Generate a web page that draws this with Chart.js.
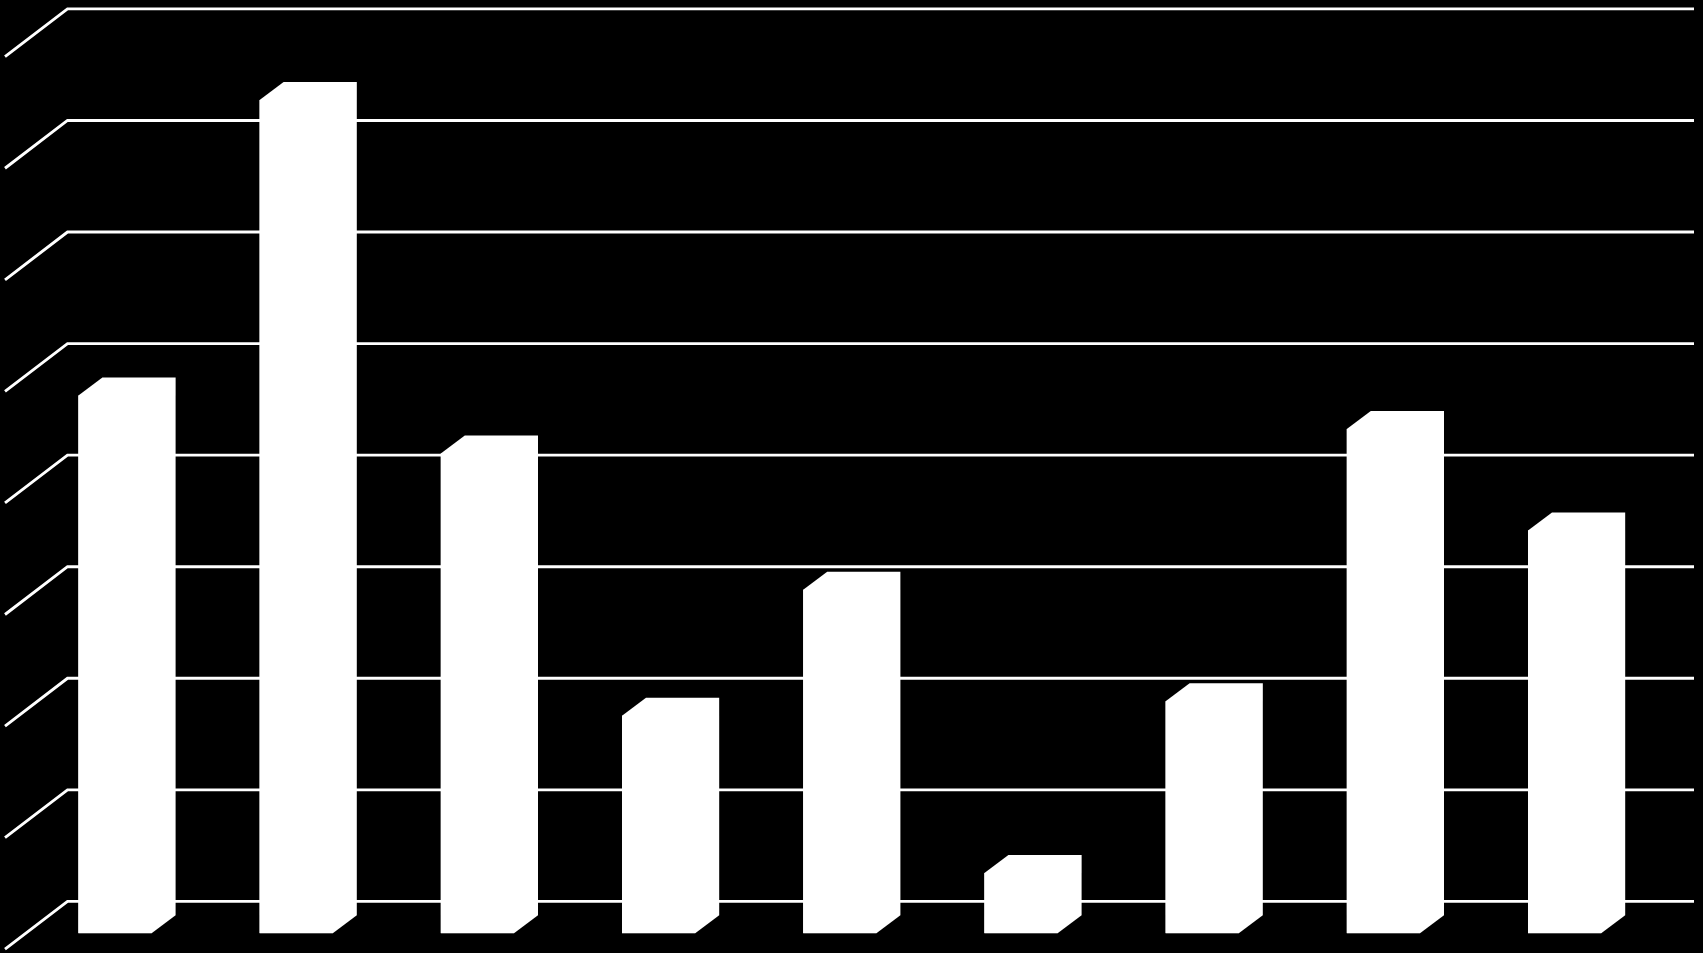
<!DOCTYPE html>
<html>
<head>
<meta charset="utf-8">
<title>chart</title>
<script src="https://cdn.jsdelivr.net/npm/chart.js@4"></script>
<style>
  html, body { margin: 0; padding: 0; background: #000; overflow: hidden; }
  canvas { display: block; }
</style>
</head>
<body>
<canvas id="barChart" width="1703" height="953"></canvas>
<script>
const categories = ["1", "2", "3", "4", "5", "6", "7", "8", "9"];
const values = [4.82, 7.47, 4.30, 1.95, 3.08, 0.54, 2.08, 4.52, 3.61];
const axisMax = 8;

// 3d look: wall sits behind the bars, floor runs down and to the left
const wall = { dx: 62.5, dy: 47.8, lift: 31.9, right: 1694 };
const barDepth = { dx: 24, dy: 18 };

const wall3d = {
  id: "wall3d",
  beforeDatasetsDraw(chart) {
    const { ctx, scales } = chart;
    ctx.save();
    ctx.strokeStyle = "#ffffff";
    ctx.lineCap = "butt";
    ctx.lineJoin = "miter";
    scales.y.ticks.forEach((tick) => {
      const y = scales.y.getPixelForValue(tick.value) - wall.lift;
      ctx.lineWidth = 2.9;
      ctx.beginPath();
      ctx.moveTo(5, y + wall.dy);
      ctx.lineTo(5 + wall.dx, y);
      ctx.lineTo(wall.right, y);
      ctx.stroke();
    });
    ctx.restore();
  },
  afterDatasetsDraw(chart) {
    const { ctx } = chart;
    const meta = chart.getDatasetMeta(0);
    ctx.save();
    ctx.fillStyle = "#ffffff";
    // whole outline of the bar in one shape, so no seam shows between faces
    meta.data.forEach((bar) => {
      const left = bar.x - bar.width / 2;
      const right = bar.x + bar.width / 2;
      ctx.beginPath();
      ctx.moveTo(left, bar.base);
      ctx.lineTo(left, bar.y);
      ctx.lineTo(left + barDepth.dx, bar.y - barDepth.dy);
      ctx.lineTo(right + barDepth.dx, bar.y - barDepth.dy);
      ctx.lineTo(right + barDepth.dx, bar.base - barDepth.dy);
      ctx.lineTo(right, bar.base);
      ctx.closePath();
      ctx.fill();
    });
    ctx.restore();
  }
};

new Chart(document.getElementById("barChart"), {
  type: "bar",
  data: {
    labels: categories,
    datasets: [{
      data: values,
      backgroundColor: "#ffffff",
      borderWidth: 0,
      barPercentage: 0.404,
      categoryPercentage: 1
    }]
  },
  options: {
    responsive: false,
    animation: false,
    devicePixelRatio: 1,
    layout: { padding: { left: 24.4, right: 47.8, top: 40.8, bottom: 19.7 } },
    plugins: { legend: { display: false }, tooltip: { enabled: false } },
    scales: {
      x: { display: false },
      y: { display: false, min: 0, max: axisMax, ticks: { stepSize: 1 } }
    }
  },
  plugins: [wall3d]
});
</script>
</body>
</html>
